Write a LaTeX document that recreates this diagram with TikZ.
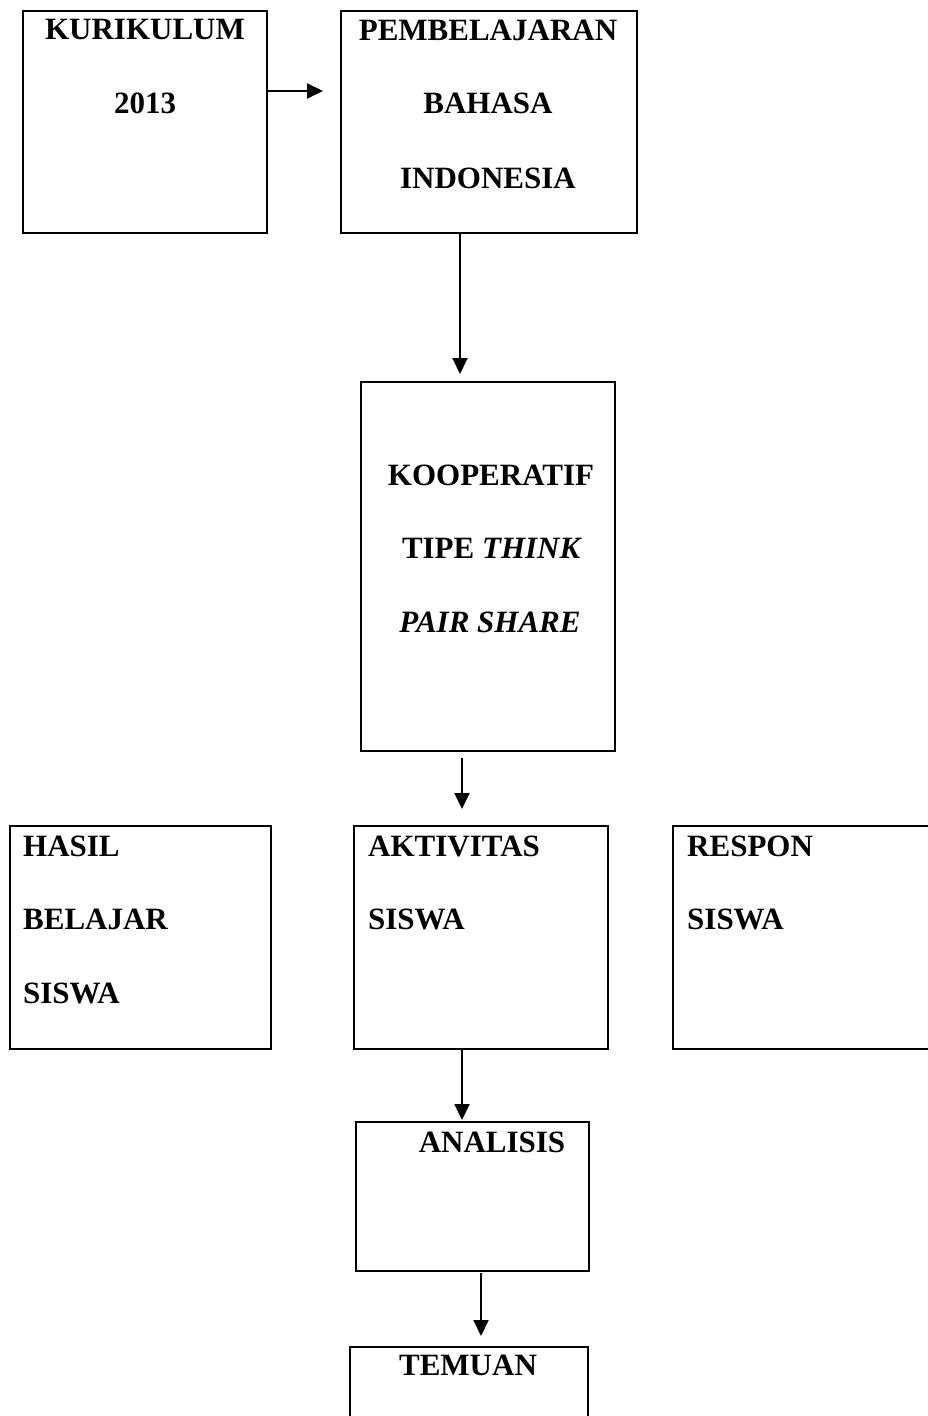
\documentclass[tikz,border=0pt]{standalone}
\usepackage{fontspec}
\setmainfont{Liberation Serif}
\usetikzlibrary{arrows.meta}
\begin{document}
\begin{tikzpicture}[x=1pt,y=-1pt,
  box/.style={draw, line width=2pt, rectangle, inner sep=0pt, anchor=north west},
  txt/.style={font=\fontsize{31}{37}\selectfont\bfseries, inner sep=0pt, anchor=base},
  ltxt/.style={txt, anchor=base west},
  arr/.style={line width=2pt, -{Triangle[length=16pt,width=15pt]}}]
\useasboundingbox[fill=white] (0,0) rectangle (927,1416);
% boxes
\node[box, minimum width=244pt, minimum height=222pt] (k) at (22,10) {};
\node[box, minimum width=296pt, minimum height=222pt] (p) at (340,10) {};
\node[box, minimum width=254pt, minimum height=369pt] (kp) at (360,381) {};
\node[box, minimum width=261pt, minimum height=223pt] (h) at (9,825) {};
\node[box, minimum width=254pt, minimum height=223pt] (ak) at (353,825) {};
\node[box, minimum width=280pt, minimum height=223pt] (r) at (672,825) {};
\node[box, minimum width=233pt, minimum height=149pt] (an) at (355,1121) {};
\node[box, minimum width=238pt, minimum height=100pt] (tm) at (349,1346) {};
% texts
\node[txt] (t1) at (145,39) {KURIKULUM};
\node[txt] (t2) at (145,113) {2013};
\node[txt] (t3) at (488,40) {PEMBELAJARAN};
\node[txt] (t4) at (488,113) {BAHASA};
\node[txt] (t5) at (488,188) {INDONESIA};
\node[txt] (t6) at (491,485) {KOOPERATIF};
\node[txt] (t7) at (492,558) {TIPE \textit{THINK}};
\node[txt] (t8) at (490,632) {\textit{PAIR SHARE}};
\node[ltxt] (t9) at (23,856) {HASIL};
\node[ltxt] (t10) at (23,929) {BELAJAR};
\node[ltxt] (t11) at (23,1003) {SISWA};
\node[ltxt] (t12) at (368,856) {AKTIVITAS};
\node[ltxt] (t13) at (368,929) {SISWA};
\node[ltxt] (t14) at (687,856) {RESPON};
\node[ltxt] (t15) at (687,929) {SISWA};
\node[txt] (t16) at (492,1152) {ANALISIS};
\node[txt] (t17) at (468,1375) {TEMUAN};
% connectors
\draw[arr] ([yshift=-81pt]k.north east) -- ([xshift=-17pt,yshift=-81pt]p.north west);
\draw[arr] ([xshift=-29pt,yshift=2pt]p.south) -- ([xshift=-28pt,yshift=7pt]kp.north);
\draw[arr] ([xshift=-26pt,yshift=-6pt]kp.south) -- ([xshift=-19pt,yshift=16pt]ak.north);
\draw[arr] ([xshift=-19pt,yshift=1pt]ak.south) -- ([xshift=-10.5pt,yshift=1pt]an.north);
\draw[arr] ([xshift=8.5pt,yshift=-1pt]an.south) -- ([xshift=12pt,yshift=10pt]tm.north);
\end{tikzpicture}
\end{document}
